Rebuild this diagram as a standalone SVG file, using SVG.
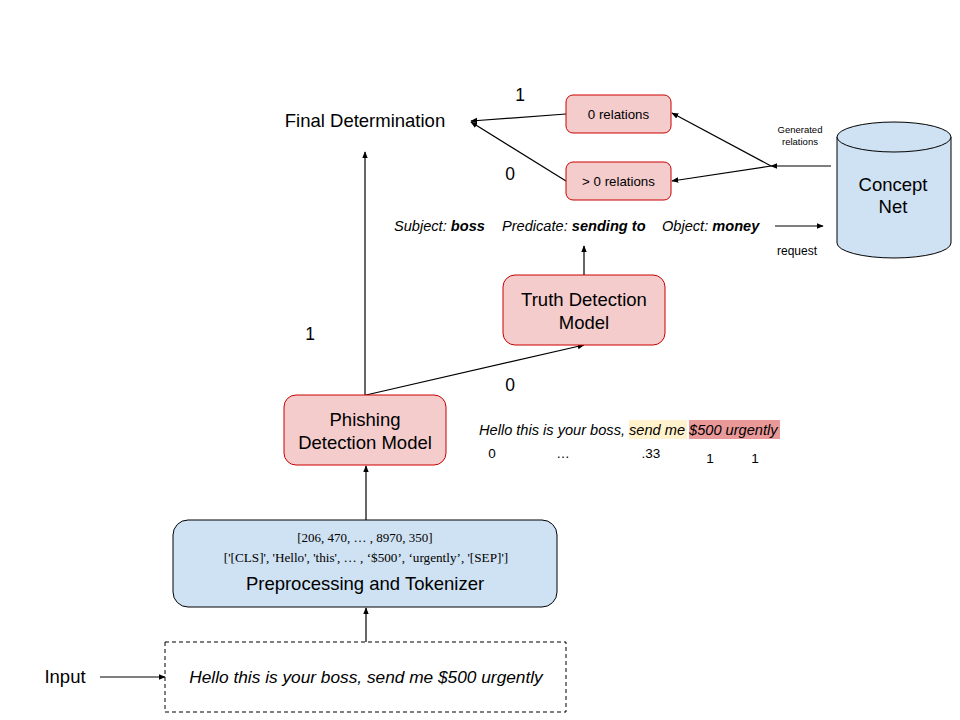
<svg xmlns="http://www.w3.org/2000/svg" width="960" height="720" viewBox="0 0 960 720">
<style>
text{font-family:"Liberation Sans",Arial,sans-serif;fill:#000}
.red{fill:#f4cccc;stroke:#cc0000;stroke-width:1}
.blue{fill:#cfe2f3;stroke:#000;stroke-width:1}
.ln{stroke:#000;stroke-width:1.2;fill:none;marker-end:url(#ah)}
.it{font-style:italic}
.b{font-weight:bold}
.serif{font-family:"Liberation Serif","Times New Roman",serif}
.big{font-size:18.5px}
</style>
<defs>
<marker id="ah" viewBox="0 0 10 10" refX="9" refY="5" markerWidth="7" markerHeight="7" orient="auto" markerUnits="userSpaceOnUse">
<path d="M0,1 L10,5 L0,9 z" fill="#000"/>
</marker>
</defs>
<rect width="960" height="720" fill="#fff"/>
<g id="connectors">
<line class="ln" x1="100" y1="677" x2="165" y2="677"/>
<line class="ln" x1="366" y1="642" x2="366" y2="608"/>
<line class="ln" x1="366" y1="520" x2="366" y2="466"/>
<line class="ln" x1="365" y1="395" x2="365" y2="152"/>
<line class="ln" x1="366" y1="395" x2="584" y2="345"/>
<line class="ln" x1="584" y1="275" x2="584" y2="246"/>
<line class="ln" x1="566" y1="114" x2="471" y2="121"/>
<line class="ln" x1="566" y1="181" x2="471" y2="122"/>
<line class="ln" x1="831" y1="166" x2="771" y2="166"/>
<line class="ln" x1="771" y1="166" x2="672" y2="113"/>
<line class="ln" x1="771" y1="166" x2="672" y2="181"/>
<line class="ln" x1="775" y1="226" x2="823" y2="226"/>
<text x="520" y="101" font-size="17.5" text-anchor="middle">1</text>
<text x="510" y="180" font-size="17.5" text-anchor="middle">0</text>
<text x="310" y="340" font-size="17.5" text-anchor="middle">1</text>
<text x="510" y="391" font-size="17.5" text-anchor="middle">0</text>
<text x="800" y="133" font-size="9.5" text-anchor="middle">Generated</text>
<text x="800" y="145" font-size="9.5" text-anchor="middle">relations</text>
<text x="797" y="255" font-size="12" text-anchor="middle">request</text>
</g>
<g id="final">
<text x="365" y="127" class="big" text-anchor="middle">Final Determination</text>
</g>
<g id="zero-relations">
<rect class="red" x="566" y="95" width="105" height="38" rx="7"/>
<text x="618.5" y="119" font-size="13.3" text-anchor="middle">0 relations</text>
</g>
<g id="gt-zero-relations">
<rect class="red" x="566" y="162" width="105" height="38" rx="7"/>
<text x="618.5" y="186" font-size="13.3" text-anchor="middle">&gt; 0 relations</text>
</g>
<g id="conceptnet">
<path class="blue" d="M837,137 L837,243 A57,15 0 0 0 951,243 L951,137"/>
<ellipse class="blue" cx="894" cy="137" rx="57" ry="15"/>
<text x="893" y="191" font-size="18.5" text-anchor="middle">Concept</text>
<text x="893" y="213" font-size="18.5" text-anchor="middle">Net</text>
</g>
<g id="triple">
<text x="394" y="231" font-size="14.6"><tspan class="it">Subject: </tspan><tspan class="it b">boss</tspan></text>
<text x="502" y="231" font-size="14.6"><tspan class="it">Predicate: </tspan><tspan class="it b">sending to</tspan></text>
<text x="662" y="231" font-size="14.6"><tspan class="it">Object: </tspan><tspan class="it b">money</tspan></text>
</g>
<g id="truth">
<rect class="red" x="503" y="275" width="162" height="70" rx="12"/>
<text x="584" y="306" class="big" text-anchor="middle">Truth Detection</text>
<text x="584" y="329" class="big" text-anchor="middle">Model</text>
</g>
<g id="phishing">
<rect class="red" x="284" y="395" width="162" height="70" rx="12"/>
<text x="365" y="426" class="big" text-anchor="middle">Phishing</text>
<text x="365" y="449" class="big" text-anchor="middle">Detection Model</text>
</g>
<g id="attention">
<rect x="629" y="420" width="58" height="19" fill="#fff2cc"/>
<rect x="689" y="420" width="91" height="19" fill="#ea9999"/>
<text x="479" y="435" font-size="14.6" class="it">Hello this is your boss, send me $500 urgently</text>
<text x="492" y="458" font-size="13.5" text-anchor="middle">0</text>
<text x="563" y="458" font-size="13.5" text-anchor="middle">…</text>
<text x="651" y="458" font-size="13.5" text-anchor="middle">.33</text>
<text x="710" y="463" font-size="13.5" text-anchor="middle">1</text>
<text x="755" y="463" font-size="13.5" text-anchor="middle">1</text>
</g>
<g id="tokenizer">
<rect class="blue" x="173" y="520" width="384" height="87" rx="15"/>
<text x="365" y="542" font-size="13" class="serif" text-anchor="middle">[206, 470, … , 8970, 350]</text>
<text x="366" y="562" font-size="13.2" class="serif" text-anchor="middle">['[CLS]', 'Hello', 'this', … , ‘$500’, ‘urgently’, '[SEP]']</text>
<text x="365" y="590" class="big" text-anchor="middle">Preprocessing and Tokenizer</text>
</g>
<g id="input-label">
<text x="65" y="683" class="big" text-anchor="middle">Input</text>
</g>
<g id="input">
<rect x="165" y="642" width="401" height="70" fill="#fff" stroke="#000" stroke-width="1" stroke-dasharray="4,3"/>
<text x="366" y="683" font-size="17.3" class="it" text-anchor="middle">Hello this is your boss, send me $500 urgently</text>
</g>
</svg>
